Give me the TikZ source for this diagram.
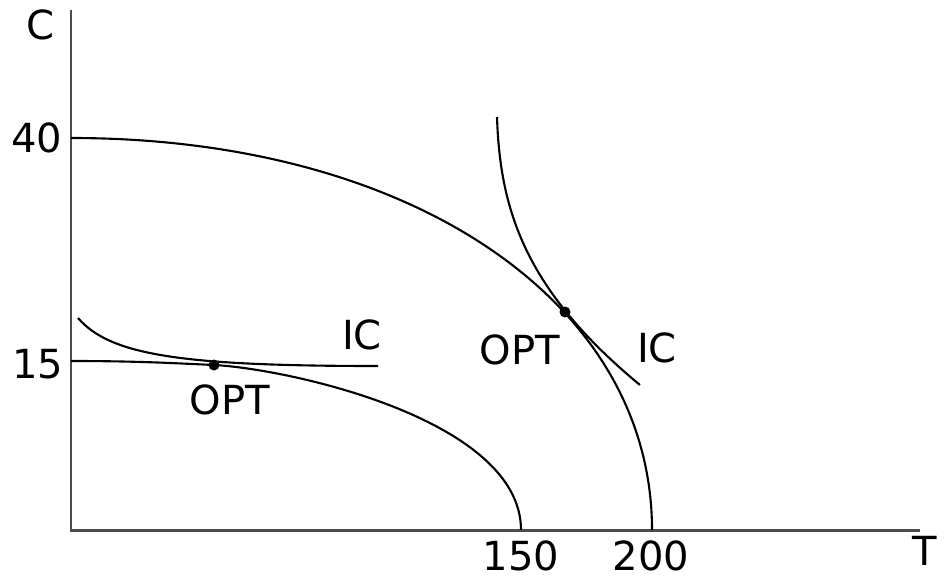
\documentclass[tikz,border=0pt]{standalone}
\usepackage{fontspec}
\setmainfont{DejaVu Sans}
\tikzset{
  axisline/.style={line width=0.85pt, black!70},
  curveline/.style={line width=0.6pt, black},
  lbl/.style={font=\fontsize{11.4}{14}\selectfont, inner sep=0pt},
  optdot/.style={circle, fill=black, inner sep=0pt, minimum size=0.11cm}
}
\begin{document}
\begin{tikzpicture}[x=0.01cm, y=-0.01cm]
            \useasboundingbox (0,0) rectangle (946,576);
            \coordinate (origin) at (71,530);
            \coordinate (ytop) at (71,10);
            \coordinate (xend) at (920,530);
            \draw[axisline] (ytop) -- (origin) -- (xend);
            \node[lbl] (ylab) at (40,25) {C};
            \node[lbl] (xlab) at (925,551) {T};
            \node[lbl] (c40) at (37,138) {40};
            \node[lbl] (c15) at (38,364) {15};
            \node[lbl] (t150) at (521,556) {150};
            \node[lbl] (t200) at (651,556) {200};
            % outer frontier and its indifference curve
            \draw[curveline] (71,138) .. controls (412,138) and (652,302) .. (652,530);
            \draw[curveline] (497,117) .. controls (500,210) and (525,290) .. (640,385);
            \node[optdot] (opthigh) at (565,312) {};
            \node[lbl] (opthighlab) at (520,350) {OPT};
            \node[lbl] (ichighlab) at (657,348) {IC};
            % inner frontier and its indifference curve
            \draw[curveline] (71,361) .. controls (140,361) and (180,363.5) .. (214,365)
                .. controls (290,369) and (521,420) .. (521,530);
            \draw[curveline] (78,318) .. controls (110,355) and (180,366) .. (378,366);
            \node[optdot] (optlow) at (214,365) {};
            \node[lbl] (optlowlab) at (230,400) {OPT};
            \node[lbl] (iclowlab) at (362,335) {IC};
        \end{tikzpicture}
\end{document}
